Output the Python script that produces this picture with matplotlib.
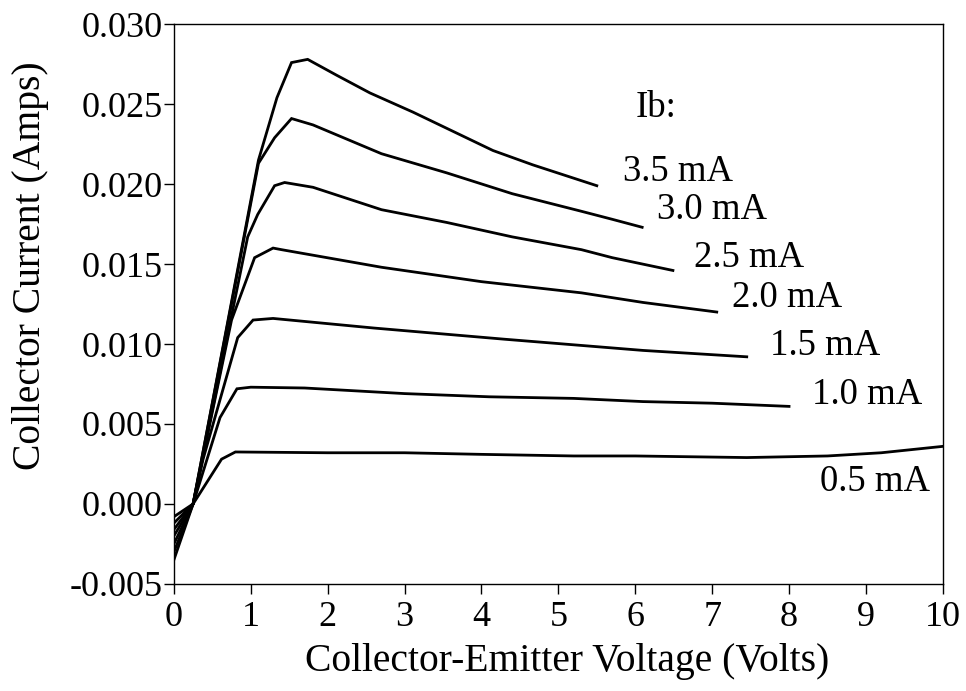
import matplotlib
matplotlib.use("Agg")
import matplotlib.pyplot as plt

plt.rcParams['font.family'] = ['Liberation Serif', 'DejaVu Serif']

# Base current of each curve (mA) and its measured Ic-Vce characteristic
base_currents = ["0.5", "1.0", "1.5", "2.0", "2.5", "3.0", "3.5"]

vce_05 = [0.0, 0.25, 0.62, 0.80, 2.0, 3.0, 4.0, 5.2, 6.0, 7.45, 8.5, 9.2, 10.0]
ic_05 = [-0.0008, 0.0, 0.0028, 0.00325, 0.0032, 0.0032, 0.0031, 0.0030, 0.0030, 0.0029, 0.0030, 0.0032, 0.0036]

vce_10 = [0.0, 0.25, 0.60, 0.82, 1.0, 1.7, 3.0, 4.1, 5.2, 6.1, 7.0, 8.0]
ic_10 = [-0.0012, 0.0, 0.0054, 0.0072, 0.00730, 0.00725, 0.0069, 0.0067, 0.0066, 0.0064, 0.0063, 0.0061]

vce_15 = [0.0, 0.25, 0.38, 0.83, 1.03, 1.29, 2.6, 4.3, 6.1, 7.45]
ic_15 = [-0.0016, 0.0, 0.0028, 0.0104, 0.0115, 0.0116, 0.0110, 0.0103, 0.0096, 0.0092]

vce_20 = [0.0, 0.25, 0.75, 1.05, 1.29, 1.4, 2.7, 4.0, 5.3, 6.1, 7.06]
ic_20 = [-0.0020, 0.0, 0.0115, 0.0154, 0.0160, 0.0159, 0.0148, 0.0139, 0.0132, 0.0126, 0.0120]

vce_25 = [0.0, 0.25, 0.96, 1.09, 1.31, 1.44, 1.81, 2.7, 3.55, 4.4, 5.3, 5.7, 6.49]
ic_25 = [-0.0025, 0.0, 0.0167, 0.0181, 0.0199, 0.0201, 0.0198, 0.0184, 0.0176, 0.0167, 0.0159, 0.0154, 0.0146]

vce_30 = [0.0, 0.25, 1.1, 1.31, 1.53, 1.81, 2.7, 3.55, 4.4, 5.3, 5.7, 6.09]
ic_30 = [-0.0030, 0.0, 0.0213, 0.0229, 0.0241, 0.0237, 0.0219, 0.0207, 0.0194, 0.0183, 0.0178, 0.0173]

vce_35 = [0.0, 0.25, 1.1, 1.34, 1.53, 1.74, 2.12, 2.55, 3.11, 3.63, 4.15, 4.67, 5.5]
ic_35 = [-0.0035, 0.0, 0.0215, 0.0254, 0.0276, 0.0278, 0.0268, 0.0257, 0.0245, 0.0233, 0.0221, 0.0212, 0.0199]

curves = [(vce_05, ic_05), (vce_10, ic_10), (vce_15, ic_15), (vce_20, ic_20),
          (vce_25, ic_25), (vce_30, ic_30), (vce_35, ic_35)]

# Label anchor (left edge, vertical centre) for each curve, in data units
label_x = [8.40, 8.30, 7.75, 7.26, 6.77, 6.28, 5.84]
label_y = [0.0014, 0.0068, 0.0099, 0.0129, 0.0154, 0.0184, 0.02075]

x_ticks = list(range(0, 11))
y_ticks = [-0.005, 0.000, 0.005, 0.010, 0.015, 0.020, 0.025, 0.030]
y_tick_labels = ["-0.005", "0.000", "0.005", "0.010", "0.015", "0.020", "0.025", "0.030"]

fig = plt.figure(figsize=(9.66, 6.91), dpi=100)
ax = fig.add_axes([0.180, 0.155, 0.796, 0.810])

for (vx, iy) in curves:
    ax.plot(vx, iy, color="black", lw=2.0, solid_joinstyle="miter")

tick_fs = 26
note_fs = 26.5
axis_fs = 28.5

for name, lx, ly in zip(base_currents, label_x, label_y):
    ax.text(lx, ly, f"{name} mA", fontsize=note_fs, ha="left", va="center")
ax.text(6.0, 0.0248, "Ib:", fontsize=note_fs, ha="left", va="center")

ax.set_xlim(0, 10)
ax.set_ylim(-0.005, 0.030)
ax.set_xticks(x_ticks)
ax.set_xticklabels([str(t) for t in x_ticks])
ax.set_yticks(y_ticks)
ax.set_yticklabels(y_tick_labels)
ax.tick_params(axis="both", direction="out", length=7, width=1.0,
               labelsize=tick_fs, top=False, right=False)
ax.tick_params(axis="x", pad=5)
ax.tick_params(axis="y", pad=1)
for s in ax.spines.values():
    s.set_linewidth(1.0)

ax.set_xlabel("Collector-Emitter Voltage (Volts)", fontsize=axis_fs)
ax.set_ylabel("Collector Current (Amps)", fontsize=axis_fs)
ax.xaxis.set_label_coords(0.511, -0.105)
ax.yaxis.set_label_coords(-0.187, 0.568)
ax.yaxis.label.set_verticalalignment("center")

fig.savefig("out.png", dpi=100)
